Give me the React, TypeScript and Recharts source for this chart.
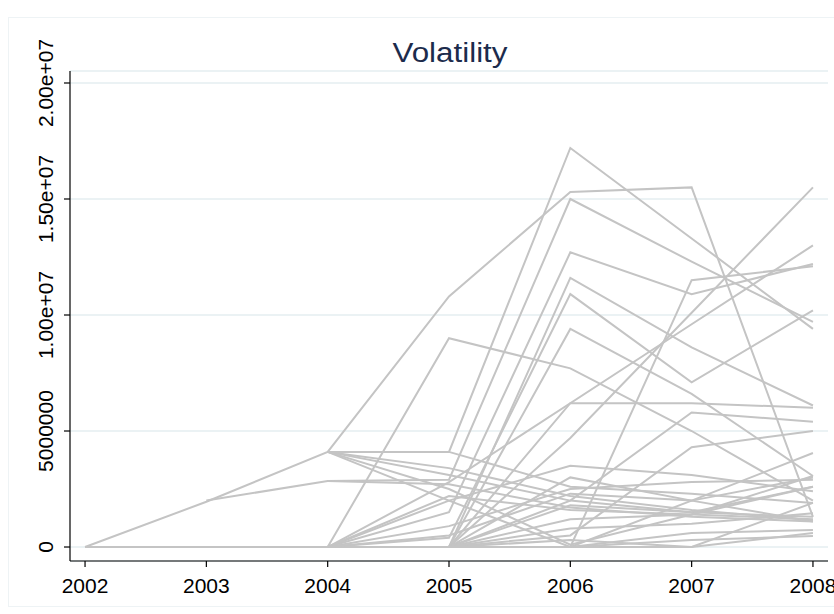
import React from "react";
import { LineChart, Line, XAxis, YAxis, CartesianGrid } from "recharts";

const years = [2002, 2003, 2004, 2005, 2006, 2007, 2008];
const yTicks = [0, 5, 10, 15, 20];
const yTickLabels = ["0", "5000000", "1.00e+07", "1.50e+07", "2.00e+07"];
const title = "Volatility";

// values in millions, one array per panel unit (2002..2008)
const s01 = [0, 1.95, 4.1, 10.8, 15.3, 15.5, 1.3];
const s02 = [null, 2.0, 2.85, 2.9, 15.0, 12.3, 9.7];
const s03 = [null, null, 4.1, 4.1, 17.2, 13.3, 9.4];
const s04 = [null, null, 0, 1.5, 12.7, 10.9, 12.2];
const s05 = [null, null, 0, 0, 11.6, 8.6, 6.1];
const s06 = [null, null, 0, 0.4, 10.9, 7.1, 10.2];
const s07 = [null, null, 0, 0, 9.4, 6.6, 3.06];
const s08 = [null, null, 0, 0, 0, 11.5, 12.1];
const s09 = [null, null, 0, 0, 4.7, 10.1, 15.5];
const s10 = [null, null, 0, 0, 6.2, 9.6, 13.0];
const s11 = [null, null, 0, 2.8, 6.2, 6.2, 6.0];
const s12 = [null, null, 0, 0, 2.0, 5.8, 5.4];
const s13 = [null, null, 0, 0, 0.5, 4.3, 5.0];
const s14 = [null, null, 0, 9.0, 7.7, 5.0, 2.0];
const s15 = [null, null, 0, 0, 0, 2.0, 4.05];
const s16 = [null, null, 4.1, 3.4, 2.2, 1.6, 1.15];
const s17 = [null, null, 4.1, 3.1, 2.0, 1.5, 1.3];
const s18 = [null, null, 4.1, 2.0, 0, 0.6, 0.73];
const s19 = [null, null, 0, 2.0, 3.5, 3.1, 2.4];
const s20 = [null, null, 0, 0.9, 2.5, 2.8, 2.9];
const s21 = [null, null, 0, 0, 3.0, 2.0, 1.1];
const s22 = [null, null, 0, 0, 1.8, 1.5, 2.6];
const s23 = [null, null, 0, 0, 1.2, 1.4, 3.06];
const s24 = [null, null, 0, 0, 0.3, 0, 0.6];
const s25 = [null, null, 0, 0, 0.8, 1.0, 1.45];
const s26 = [null, null, null, 0, 0, 0, 1.9];
const s27 = [0, 0, 0, 0, 0, 0.3, 0.47];
const s28 = [null, null, 0, 2.2, 1.6, 1.4, 1.2];
const s29 = [null, null, 4.1, 2.5, 0.1, 1.4, 2.6];
const s30 = [null, null, 4.1, 4.1, 2.6, 2.3, 1.9];
const s31 = [null, null, 2.85, 2.7, 1.7, 1.3, 1.1];
const s32 = [null, null, 0, 0.5, 2.3, 2.0, 3.0];

const series = [s01, s02, s03, s04, s05, s06, s07, s08, s09, s10, s11, s12, s13, s14, s15, s16,
  s17, s18, s19, s20, s21, s22, s23, s24, s25, s26, s27, s28, s29, s30, s31, s32];

const data = years.map((yr, i) => {
  const row: Record<string, number | null> = { year: yr };
  series.forEach((s, k) => {
    row["s" + k] = s[i];
  });
  return row;
});

const FONT = "'Liberation Sans', Arial, sans-serif";

const XTick = (props: any) => {
  const { x, y, payload } = props;
  return (
    <text x={x} y={y + 24} textAnchor="middle" fontSize={21} fill="#000" fontFamily={FONT}>
      {payload.value}
    </text>
  );
};

const YTick = (props: any) => {
  const { x, y, index } = props;
  const bx = x - 9;
  return (
    <text x={bx} y={y} transform={`rotate(-90, ${bx}, ${y})`} textAnchor="middle" fontSize={21}
      fill="#000" fontFamily={FONT}>
      {yTickLabels[index]}
    </text>
  );
};

export default function App() {
  return (
    <div style={{ position: "absolute", left: 0, top: 0, width: 834, height: 614, background: "#fff", overflow: "hidden" }}>
      <div style={{ position: "absolute", left: 8, top: 17, width: 840, height: 588, border: "1px solid #eef3f5" }} />
      <svg style={{ position: "absolute", left: 0, top: 0 }} width={834} height={80}>
        <text x={450} y={62} textAnchor="middle" fontSize={27} fill="#1c2b4c" fontFamily={FONT}
          textLength={115} lengthAdjust="spacingAndGlyphs">
          {title}
        </text>
      </svg>
      <div style={{ position: "absolute", left: 0, top: 0 }}>
        <LineChart width={834} height={614} data={data}
          margin={{ top: 71, right: 6, bottom: 13, left: 8 }}>
          <CartesianGrid horizontal={true} vertical={false} stroke="#e4eef0" strokeWidth={1.5} />
          <XAxis dataKey="year" type="number" domain={[2001.876, 2008.124]} ticks={years}
            allowDataOverflow height={40} tick={<XTick />} tickSize={6} tickMargin={2}
            axisLine={{ stroke: "#000", strokeWidth: 1.2 }} tickLine={{ stroke: "#000", strokeWidth: 1.2 }} />
          <YAxis type="number" domain={[-0.603, 20.517]} ticks={yTicks} allowDataOverflow width={62}
            tick={<YTick />} tickSize={6} tickMargin={2}
            axisLine={{ stroke: "#000", strokeWidth: 1.2 }} tickLine={{ stroke: "#000", strokeWidth: 1.2 }} />
          {series.map((_, k) => (
            <Line key={k} dataKey={"s" + k} stroke="#c4c4c4" strokeWidth={2} dot={false}
              activeDot={false} isAnimationActive={false} connectNulls={false} type="linear" />
          ))}
        </LineChart>
      </div>
    </div>
  );
}
